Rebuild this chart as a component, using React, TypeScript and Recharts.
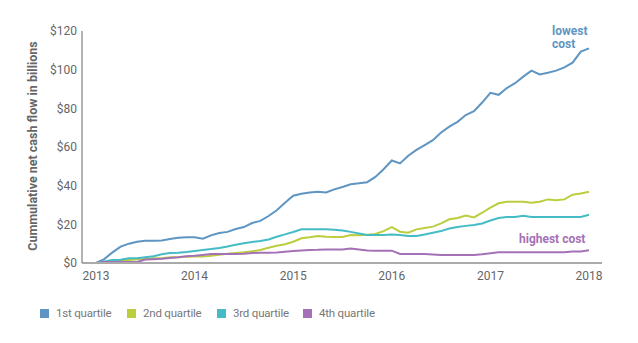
import React from 'react';
import { LineChart, Line, XAxis, YAxis } from 'recharts';

// monthly cumulative net cash flow, Jan 2013 .. Jan 2018 ($ billions)
const startYear = 2013;
const yearTicks = [2013, 2014, 2015, 2016, 2017, 2018];
const valueTicks = [0, 20, 40, 60, 80, 100, 120];

const q1 = [
  0, 2, 5.5, 8.5, 10, 11, 11.5, 11.5, 11.7, 12.4, 13, 13.3,
  13.3, 12.6, 14.3, 15.5, 16.1, 17.6, 18.6, 20.7, 21.8, 24.3, 27.3, 31.2,
  34.8, 35.8, 36.5, 36.8, 36.5, 38.1, 39.3, 40.7, 41.2, 41.8, 44.5, 48.5,
  53, 51.5, 55.5, 58.5, 61, 63.5, 67.5, 70.5, 73, 76.5, 78.5, 83,
  88, 87, 90.5, 93, 96.4, 99.5, 97.5, 98.4, 99.5, 101.2, 103.6, 109.3,
  111,
];
const q2 = [
  0, 0.5, 1, 1.5, 1.5, 2, 2, 2.5, 2.5, 3, 3, 3.2,
  3.3, 3.3, 3.8, 4.3, 4.8, 5.2, 5.6, 6.1, 6.7, 7.9, 8.9, 9.7,
  11, 12.8, 13.3, 14, 13.6, 13.4, 13.5, 14.5, 14.3, 14.6, 15, 16.5,
  18.6, 16.2, 15.7, 17.4, 18.1, 18.8, 20.5, 22.6, 23.3, 24.5, 23.6, 26,
  28.6, 30.9, 31.7, 31.7, 31.7, 31.2, 31.7, 32.9, 32.4, 32.9, 35.3, 35.9,
  36.9,
];
const q3 = [
  0, 0.8, 1.5, 1.7, 2.4, 2.4, 3, 3.5, 4.5, 5.2, 5.3, 5.7,
  6.2, 6.7, 7.2, 7.8, 8.5, 9.4, 10.2, 10.9, 11.4, 12.2, 13.6, 14.8,
  16, 17.4, 17.4, 17.4, 17.4, 17.2, 16.8, 16.1, 15.3, 14.5, 14.5, 14.5,
  14.8, 14.5, 14, 14, 14.7, 15.6, 16.5, 17.8, 18.6, 19.2, 19.7, 20.4,
  22, 23.3, 23.8, 23.8, 24.4, 23.8, 23.8, 23.8, 23.8, 23.8, 23.8, 23.8,
  25,
];
const q4 = [
  0, 0.5, 0.5, 0.5, 0.5, 0.5, 1.8, 2, 2.2, 2.6, 3, 3.5,
  3.8, 4.2, 4.6, 4.7, 4.7, 4.7, 4.8, 5.2, 5.3, 5.3, 5.4, 5.8,
  6.2, 6.5, 6.7, 6.8, 7, 7, 7, 7.5, 7, 6.5, 6.4, 6.4,
  6.4, 4.7, 4.7, 4.7, 4.7, 4.4, 4.1, 4.1, 4.1, 4.1, 4.1, 4.5,
  5, 5.5, 5.5, 5.5, 5.5, 5.5, 5.5, 5.5, 5.5, 5.5, 6, 6,
  6.6,
];

const seriesNames = ['1st quartile', '2nd quartile', '3rd quartile', '4th quartile'];
const seriesColors = ['#5e95c2', '#bccd3e', '#45bcc5', '#a471b6'];

const data = q1.map((v, i) => ({
  t: startYear + i / 12,
  q1: v,
  q2: q2[i],
  q3: q3[i],
  q4: q4[i],
}));

const font = 'Roboto, "Liberation Sans", sans-serif';
const legendItemWidths = [87, 90, 86, 80];

function LegendRow() {
  return (
    <div
      style={{
        position: 'absolute',
        left: 40,
        top: 305,
        display: 'flex',
        fontFamily: font,
        fontSize: 11.5,
        lineHeight: '16px',
        color: '#777',
      }}
    >
      {seriesNames.map((name, i) => (
        <div
          key={name}
          style={{ display: 'flex', alignItems: 'center', width: legendItemWidths[i], whiteSpace: 'nowrap' }}
        >
          <span
            style={{ width: 9, height: 9, background: seriesColors[i], marginRight: 7, display: 'inline-block' }}
          />
          <span style={{ letterSpacing: -0.2 }}>{name}</span>
        </div>
      ))}
    </div>
  );
}

export default function App() {
  return (
    <div style={{ position: 'absolute', left: 0, top: 0, width: 638, height: 343, background: '#fff' }}>
      <LineChart
        width={638}
        height={343}
        data={data}
        margin={{ top: 31, right: 36, bottom: 50, left: 0 }}
      >
        <XAxis
          dataKey="t"
          type="number"
          domain={[2013, 2018]}
          ticks={yearTicks}
          padding={{ left: 14, right: 13 }}
          height={30}
          tickLine={false}
          tickSize={0}
          tickMargin={8}
          axisLine={{ stroke: '#aaa', strokeWidth: 2 }}
          tick={{ fontSize: 12, fill: '#666', fontFamily: font }}
        />
        <YAxis
          domain={[0, 120]}
          ticks={valueTicks}
          width={82}
          tickLine={false}
          tickSize={0}
          tickMargin={5}
          axisLine={{ stroke: '#666', strokeWidth: 1 }}
          tick={{ fontSize: 12, fill: '#666', fontFamily: font }}
          tickFormatter={(v) => `$${v}`}
        />
        <Line type="linear" dataKey="q1" name={seriesNames[0]} stroke={seriesColors[0]} strokeWidth={2} dot={false} isAnimationActive={false} />
        <Line type="linear" dataKey="q2" name={seriesNames[1]} stroke={seriesColors[1]} strokeWidth={2} dot={false} isAnimationActive={false} />
        <Line type="linear" dataKey="q3" name={seriesNames[2]} stroke={seriesColors[2]} strokeWidth={2} dot={false} isAnimationActive={false} />
        <Line type="linear" dataKey="q4" name={seriesNames[3]} stroke={seriesColors[3]} strokeWidth={2} dot={false} isAnimationActive={false} />
      </LineChart>

      <LegendRow />

      {/* rotated y-axis title */}
      <div
        style={{
          position: 'absolute',
          left: 32,
          top: 146,
          transform: 'translate(-50%, -50%) rotate(-90deg)',
          whiteSpace: 'nowrap',
          fontFamily: font,
          fontWeight: 700,
          fontSize: 12.5,
          color: '#666',
        }}
      >
        Cummulative net cash flow in billions
      </div>

      {/* end labels */}
      <div
        style={{
          position: 'absolute',
          left: 552,
          top: 25,
          fontFamily: font,
          fontWeight: 700,
          fontSize: 12,
          lineHeight: '13px',
          color: seriesColors[0],
        }}
      >
        lowest
        <br />
        cost
      </div>
      <div
        style={{
          position: 'absolute',
          left: 519,
          top: 232,
          fontFamily: font,
          fontWeight: 700,
          fontSize: 12,
          lineHeight: '14px',
          color: seriesColors[3],
        }}
      >
        highest cost
      </div>
    </div>
  );
}
